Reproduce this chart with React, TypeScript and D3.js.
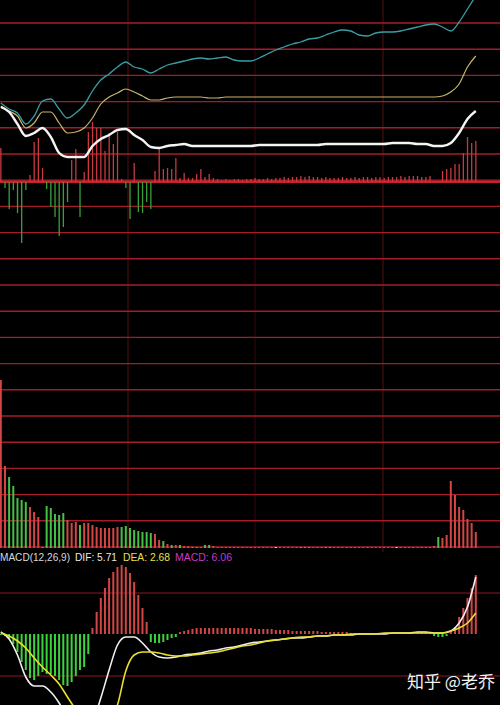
import React from 'react';
import * as d3 from 'd3';

// ---- data (bar index 0..114) ----
const topHist = [
  34, -6, -27, -8, -31, -61, -8, 7, 40, 44,
  14, -7, -25, -35, -54, -45, -20, 22, 33, -35,
  10, 50, 60, 54, 54, 31, 49, 38, 50, 3,
  -6, -37, 19, -30, -31, -20, -27, 11, 35, 13,
  14, 13, 24, 4, 9, 4, 4, 8, 13, 5,
  8, 4,
  3, 2, 3, 2, 3, 3, 2, 3, 3, 4,
  3, 3, 4, 3, 4, 4, 5, 4, 5, 5,
  6, 5, 6, 5, 5, 4, 5, 4, 4, 4,
  5, 4, 4, 5, 4, 5, 5, 4, 5, 5,
  4, 5, 5, 5, 6, 5, 6, 6, 6, 5,
  5, 6,
  1, 1, 11, 13, 14, 18, 18, 29, 45, 39, 41,
];

const lowVals = [
  168, 82, 71, 62, 50, 48, 46, 41, 36, 31,
  1, 42, 40, 34, 33, 35, 28, 25, 26, 23,
  25, 25, 23, 21, 20, 20, 20, 20, 21, 21,
  22, 20, 18, 17, 16, 16, 15, 14, 8, 7,
  4, 3, 3, 3, 2, 2, 1, 1, 1, 3,
  3, 2,
  1, 1, 1, 1, 1, 1, 1, 1, 1, 1,
  1, 1, 1, 1, 1, 1, 1, 1, 1, 1,
  1, 1, 1, 1, 1, 1, 1, 1, 1, 1,
  1, 1, 1, 1, 1, 1, 1, 1, 1, 1,
  1, 1, 1, 1, 1, 1, 1, 1, 1, 1,
  1, 1,
  2, 11, 10, 13, 67, 53, 41, 38, 29, 25, 16,
];

const lowColors = (
  'rrgggggrrr' + 'ggggggrrrg' + 'rrrrrrrrrg' + 'gggggggrrg' + 'rgrgrrggrg' + 'gr' +
  'rrrrrrrrrr' + 'rrrrwrrrrr' + 'gggrrrggrr' + 'rrrrrrrrrr' + 'rrrwrrrrrr' + 'rr' +
  'rgrrrrrrrrr'
).split('');

const macdHist = [
  -1, -2, -5, -10, -18, -28, -36, -44, -46, -42,
  -38, -40, -40, -42, -46, -51, -52, -48, -42, -36,
  -33, -20, 6, 22, 36, 46, 56, 62, 67, 69,
  67, 61, 52, 39, 26, 12, -8, -9, -9, -8,
  -6, -4, -3, 2, 3, 4, 5, 6, 6, 6,
  6, 6, 6, 6, 6, 6, 6, 6, 6, 6,
  6, 5, 5, 5, 5, 5, 4, 4, 4, 4,
  3, 3, 3, 3, 3, 3, 3, 2, 2, 2,
  2, 2, 2, 2, 1, 1, 1, 1, 1, 1,
  1, 1, 1, 1, 1, 1, 1, 1, 1, 1,
  1, 1, 1, 1, -2, -3, -3, -2, 2, 7,
  17, 26, 36, 46, 59,
];

// line samples at every second bar index (0, 2, 4, ... 114)
const lineIndex = [
  0, 2, 4, 6, 8, 10, 12, 14, 16, 18, 20, 22, 24, 26, 28, 30, 32, 34, 36, 38,
  40, 42, 44, 46, 48, 50, 52, 54, 56, 58, 60, 62, 64, 66, 68, 70, 72, 74, 76, 78,
  80, 82, 84, 86, 88, 90, 92, 94, 96, 98, 100, 102, 104, 106, 108, 110, 112, 114,
];

const cyanLine = [
  79, 73, 69, 58, 66, 81, 83, 73, 64, 69,
  77, 91, 102, 108, 115, 120, 115, 113, 109, 113,
  117, 119, 121, 123, 124, 123, 124, 125, 122, 121,
  121, 124, 128, 132, 135, 138, 140, 143, 144, 147,
  150, 152, 151, 147, 146, 149, 150, 150, 151, 153,
  155, 157, 158, 155, 151, 160, 173, 186,
];

const yellowLine = [
  76, 71, 66, 54, 59, 70, 70, 59, 49, 50,
  54, 64, 78, 85, 89, 93, 90, 86, 82, 82,
  84, 85, 85, 85, 85, 84, 84, 85, 85, 85,
  85, 85, 85, 85, 85, 85, 85, 85, 85, 85,
  85, 85, 85, 85, 85, 85, 85, 85, 85, 85,
  85, 85, 85, 86, 90, 98, 115, 126,
];

const whiteLine = [
  75, 70, 58, 46, 49, 54, 45, 29, 25, 25,
  25, 36, 43, 47, 52, 53, 47, 42, 35, 34,
  36, 37, 38, 36, 36, 36, 36, 36, 36, 36,
  36, 37, 37, 37, 37, 37, 37, 37, 37, 38,
  38, 38, 38, 38, 38, 38, 38, 39, 39, 39,
  38, 38, 36, 36, 39, 49, 63, 71,
];

const difLine = [
  2, -5, -21, -43, -52, -52, -58, -69, -84, -94,
  -96, -88, -64, -36, -11, -3, -3, -9, -18, -23,
  -24, -23, -21, -20, -19, -17, -16, -14, -13, -11,
  -9, -8, -7, -6, -5, -4, -4, -3, -2, -2,
  -1, -1, -1, 0, 0, 0, 0, 1, 1, 1,
  2, 2, 1, 1, 3, 11, 27, 57,
];

const deaLine = [
  1, -2, -7, -14, -24, -33, -41, -50, -63, -76,
  -91, -98, -96, -88, -71, -37, -21, -18, -18, -19,
  -21, -22, -22, -21, -20, -19, -18, -16, -14, -12,
  -11, -9, -7, -6, -5, -4, -3, -3, -2, -2,
  -1, -1, 0, 0, 0, 0, 1, 1, 1, 1,
  1, 1, 1, 1, 3, 6, 11, 21,
];

const legendParts = [
  { text: 'MACD(12,26,9)', color: '#d8d8d8', x: 0, w: 70 },
  { text: 'DIF: 5.71', color: '#e8e8e8', x: 75, w: 42 },
  { text: 'DEA: 2.68', color: '#e6e04a', x: 123, w: 47 },
  { text: 'MACD: 6.06', color: '#c838c8', x: 175, w: 57 },
];

const W = 500;
const H = 705;

export default function App() {
  const x = d3.scaleLinear().domain([0, 114]).range([0.8, 475.8]);
  const yTop = d3.scaleLinear().domain([0, 100]).range([182, 82]);
  const yLow = d3.scaleLinear().domain([0, 100]).range([548, 448]);
  const yMacd = d3.scaleLinear().domain([0, 100]).range([634, 534]);

  const gridYs = d3.range(21).map((k) => 23 + k * 26.2);

  const mkLine = (vals: number[], ys: d3.ScaleLinear<number, number>) =>
    d3
      .line<number>()
      .x((_, i) => x(lineIndex[i]))
      .y((v) => ys(v))
      .curve(d3.curveMonotoneX)(vals) || '';

  const red = '#d44646';
  const green = '#46c046';

  return (
    <svg
      width={W}
      height={H}
      style={{ position: 'fixed', left: 0, top: 0, background: '#000', display: 'block' }}
    >
      <rect x={0} y={0} width={W} height={H} fill="#000" />
      {/* vertical separators */}
      {[128, 255, 383].map((vx, i) => (
        <line
          key={'v' + i}
          x1={vx}
          x2={vx}
          y1={0}
          y2={552}
          stroke={i === 1 ? '#2a0609' : '#4a0c12'}
          strokeWidth={1.2}
        />
      ))}
      {/* horizontal grid */}
      {gridYs.map((gy, i) => (
        <line key={'g' + i} x1={0} x2={W} y1={gy} y2={gy} stroke="#a41c28" strokeWidth={1.4} />
      ))}
      <line x1={0} x2={W} y1={593} y2={593} stroke="#8c1822" strokeWidth={1.2} />
      <line x1={0} x2={W} y1={676} y2={676} stroke="#8c1822" strokeWidth={1.2} />
      <line x1={0} x2={W} y1={yTop(0)} y2={yTop(0)} stroke="#c8202c" strokeWidth={2} />

      {/* top histogram */}
      {topHist.map((v, i) => (
        <rect
          key={'t' + i}
          x={x(i) - 0.6}
          width={1.3}
          y={v >= 0 ? yTop(v) : yTop(0)}
          height={Math.abs(yTop(v) - yTop(0))}
          fill={v >= 0 ? '#c83a3e' : '#3aa03a'}
        />
      ))}

      {/* top lines */}
      <path d={mkLine(cyanLine, yTop)} fill="none" stroke="#3c9ca4" strokeWidth={1.3} />
      <path d={mkLine(yellowLine, yTop)} fill="none" stroke="#c8b46a" strokeWidth={1.2} />
      <path d={mkLine(whiteLine, yTop)} fill="none" stroke="#f4f4f4" strokeWidth={2.4} />

      {/* lower histogram */}
      {lowVals.map((v, i) => (
        <rect
          key={'l' + i}
          x={x(i) - 1}
          width={2}
          y={yLow(v)}
          height={yLow(0) - yLow(v)}
          fill={lowColors[i] === 'g' ? green : lowColors[i] === 'w' ? '#e8e8e8' : red}
        />
      ))}

      {/* legend */}
      {legendParts.map((p, i) => (
        <text
          key={'lg' + i}
          x={p.x}
          y={561}
          fill={p.color}
          fontFamily="'Liberation Sans', Arial, sans-serif"
          fontSize={11}
          textLength={p.w}
          lengthAdjust="spacingAndGlyphs"
        >
          {p.text}
        </text>
      ))}

      {/* MACD histogram */}
      {macdHist.map((v, i) => (
        <rect
          key={'m' + i}
          x={x(i) - 1}
          width={2}
          y={v >= 0 ? yMacd(v) : yMacd(0)}
          height={Math.abs(yMacd(v) - yMacd(0))}
          fill={v >= 0 ? red : '#3cd43c'}
        />
      ))}
      <path d={mkLine(difLine, yMacd)} fill="none" stroke="#f0f0f0" strokeWidth={1.6} />
      <path d={mkLine(deaLine, yMacd)} fill="none" stroke="#e8e030" strokeWidth={1.6} />

      {/* watermark */}
      <text
        x={407}
        y={688}
        fill="#f2f2f2"
        fontSize={17}
        fontFamily="'Noto Sans CJK SC', 'Noto Sans', sans-serif"
      >
        知乎 @老乔
      </text>
    </svg>
  );
}
